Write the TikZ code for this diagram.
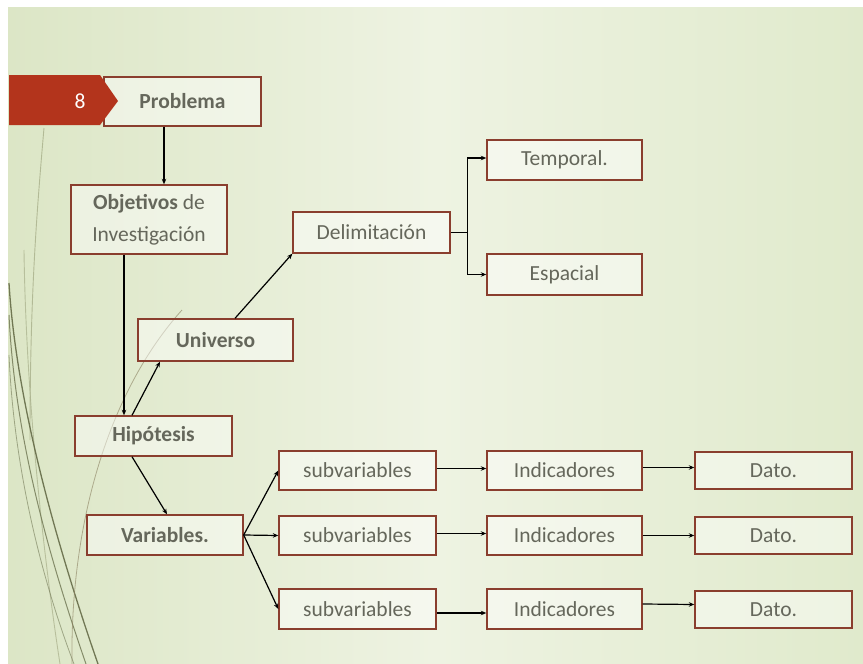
\documentclass[tikz,border=0pt]{standalone}
\usepackage{fontspec}
\setmainfont{Carlito}
\usetikzlibrary{arrows.meta}
\definecolor{boxline}{HTML}{8A3E2E}
\definecolor{txt}{HTML}{65675B}
\definecolor{bgl}{HTML}{DCE6C6}
\definecolor{bgm}{HTML}{EEF3E2}
\definecolor{bgr}{HTML}{E0EACC}
\definecolor{banner}{HTML}{B3341C}
\definecolor{wisp}{HTML}{5E6440}
\definecolor{wispl}{HTML}{A8AF8A}
\definecolor{wispb}{HTML}{8A8060}
\begin{document}
\begin{tikzpicture}[x=1pt,y=-1pt,
  box/.style={draw=boxline, line width=1.4pt, fill=white, fill opacity=0.45, text opacity=1,
    text=txt, font=\fontsize{21.5}{32}\selectfont, inner sep=0pt,
    minimum width=157pt, minimum height=40pt, align=center},
  bbox/.style={box, font=\bfseries\fontsize{21.5}{32}\selectfont},
  arr/.style={draw=black, line width=1.2pt, -{Stealth[length=5.5pt,width=4.5pt]}},
  ln/.style={draw=black, line width=1.2pt}]
% background
\useasboundingbox (0,0) rectangle (863,664);
\fill[white] (0,0) rectangle (863,664);
\shade[left color=bgl, right color=bgr, middle color=bgm] (8,7) rectangle (863,664);
% wisp curves
\draw[wispl, line width=0.9pt, opacity=0.8] (44,128) .. controls (36,220) and (30,300) .. (30,440);
\draw[wispl, line width=0.9pt, opacity=0.7] (24,250) .. controls (26,400) and (44,560) .. (60,664);
\draw[wisp, line width=1.3pt, opacity=0.85] (9,283) .. controls (16,400) and (55,540) .. (98,664);
\draw[wisp, line width=1pt, opacity=0.7] (9,315) .. controls (15,440) and (50,560) .. (86,664);
\draw[wisp, line width=0.8pt, opacity=0.5] (9,355) .. controls (14,470) and (42,580) .. (74,664);
\draw[wispb, line width=0.8pt, opacity=0.6] (182,310) .. controls (110,390) and (70,520) .. (72,664);
% nodes
\node[bbox, minimum height=49pt] (prob) at (182.5,101.5) {Problema};
\node[box, minimum width=156pt, minimum height=69pt] (obj) at (149,219.5) {\textbf{Objetivos} de\\Investigación};
\node[box, minimum height=41pt] (delim) at (371.5,232.5) {Delimitación};
\node[box, minimum width=155pt] (temp) at (564.5,160) {Temporal.};
\node[box, minimum width=155pt, minimum height=41pt] (esp) at (564.5,274.5) {Espacial};
\node[bbox, minimum width=155pt, minimum height=42pt] (univ) at (215.5,340) {Universo};
\node[bbox] (hip) at (153.5,436) {Hipótesis};
\node[bbox, minimum width=156pt] (var) at (165,535) {Variables.};
\node[box, minimum height=39pt] (sub1) at (357.5,470.5) {subvariables};
\node[box, minimum height=39pt] (sub2) at (357.5,535.5) {subvariables};
\node[box] (sub3) at (357.5,609) {subvariables};
\node[box, minimum width=155pt, minimum height=39pt] (ind1) at (564.5,470.5) {Indicadores};
\node[box, minimum width=155pt, minimum height=39pt] (ind2) at (564.5,535.5) {Indicadores};
\node[box, minimum width=155pt] (ind3) at (564.5,609) {Indicadores};
\node[box, minimum height=37pt] (dato1) at (773.5,470.5) {Dato.};
\node[box, minimum height=37pt] (dato2) at (773.5,535.5) {Dato.};
\node[box, minimum height=37pt] (dato3) at (773.5,609.5) {Dato.};
% banner
\fill[banner] (9,75) -- (100,75) -- (118,101) -- (100,125) -- (9,125) -- cycle;
\node[text=white, font=\fontsize{21.5}{24}\selectfont] (num) at (80,101) {8};
% connectors
\draw[arr] ([xshift=-18.5pt]prob.south) -- ([xshift=-18.5pt]prob.south |- obj.north);
\draw[arr] ([xshift=-25pt]obj.south) -- ([xshift=-25pt]obj.south |- hip.north);
\draw[arr] ([xshift=-21.5pt]hip.north) -- ([xshift=-55.5pt]univ.south);
\draw[arr] ([xshift=19.5pt]univ.north) -- (delim.south west);
\draw[ln, line width=1.8pt] (delim.east) -- ++(17,0) coordinate (dj);
\draw[arr] (dj) |- ([yshift=2pt]temp.west);
\draw[arr] (dj) |- (esp.west);
\draw[arr] ([xshift=-21.5pt]hip.south) -- ([xshift=2pt]var.north);
\draw[arr] (var.east) -- (sub1.west);
\draw[arr] (var.east) -- (sub2.west);
\draw[arr] (var.east) -- (sub3.west);
\draw[arr] ([yshift=2pt]sub1.east) -- ([yshift=2pt]ind1.west);
\draw[arr] ([yshift=2pt]sub2.east) -- ([yshift=2pt]ind2.west);
\draw[arr] ([yshift=-4pt]sub3.east) -- ([yshift=-4pt]ind3.west);
\draw[arr] ([yshift=3pt]ind1.east) -- ([yshift=3pt]dato1.west);
\draw[arr] (ind2.east) -- (dato2.west);
\draw[arr] ([yshift=5pt]ind3.east) -- ([yshift=5pt]dato3.west);
\end{tikzpicture}
\end{document}
